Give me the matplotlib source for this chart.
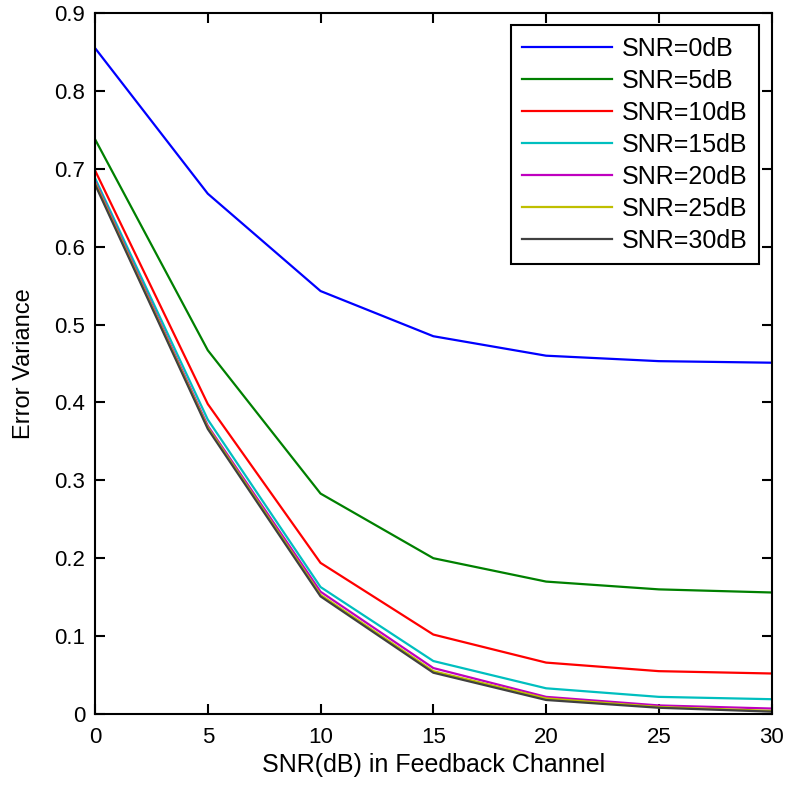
import numpy as np
import matplotlib
matplotlib.use("Agg")
import matplotlib.pyplot as plt

plt.rcParams["font.family"] = ["Liberation Sans", "DejaVu Sans"]

snr_fb = [0, 5, 10, 15, 20, 25, 30]
labels = ["SNR=0dB", "SNR=5dB", "SNR=10dB", "SNR=15dB", "SNR=20dB", "SNR=25dB", "SNR=30dB"]
snr0 = [0.855, 0.668, 0.543, 0.485, 0.460, 0.453, 0.451]
snr5 = [0.738, 0.467, 0.283, 0.200, 0.170, 0.160, 0.156]
snr10 = [0.698, 0.398, 0.194, 0.102, 0.066, 0.055, 0.052]
snr15 = [0.688, 0.378, 0.163, 0.068, 0.033, 0.022, 0.019]
snr20 = [0.684, 0.370, 0.157, 0.059, 0.022, 0.011, 0.007]
snr25 = [0.682, 0.368, 0.153, 0.055, 0.020, 0.009, 0.004]
snr30 = [0.680, 0.366, 0.151, 0.053, 0.018, 0.008, 0.003]
colors = ["#0000ff", "#008000", "#ff0000", "#00bfbf", "#bf00bf", "#bfbf00", "#404040"]

fig = plt.figure(figsize=(7.89, 7.86), dpi=100)
ax = fig.add_axes([0.1204, 0.0916, 0.8576, 0.8919])

series = [snr0, snr5, snr10, snr15, snr20, snr25, snr30]
for ys, c, lab in zip(series, colors, labels):
    ax.plot(snr_fb, ys, color=c, lw=1.6, label=lab)

ax.set_xlim(0, 30)
ax.set_ylim(0, 0.9)
ax.set_xticks(snr_fb)
ax.set_yticks(np.arange(0, 0.91, 0.1))
ax.set_yticklabels(["0", "0.1", "0.2", "0.3", "0.4", "0.5", "0.6", "0.7", "0.8", "0.9"])
ax.tick_params(direction="in", top=True, right=True, length=7, width=1.5, labelsize=16)
ax.tick_params(axis="x", pad=9)
ax.tick_params(axis="y", pad=7)
for s in ax.spines.values():
    s.set_linewidth(1.5)
ax.set_xlabel("SNR(dB) in Feedback Channel", fontsize=18, labelpad=4)
ax.set_ylabel("Error Variance", fontsize=17, labelpad=14)

leg = ax.legend(loc="upper right", fontsize=18, fancybox=False, framealpha=1,
                edgecolor="black", borderaxespad=0.5, handlelength=3.6,
                labelspacing=0.32, handletextpad=0.4, borderpad=0.45)
leg.get_frame().set_linewidth(1.5)

fig.savefig("out.png", dpi=100)
